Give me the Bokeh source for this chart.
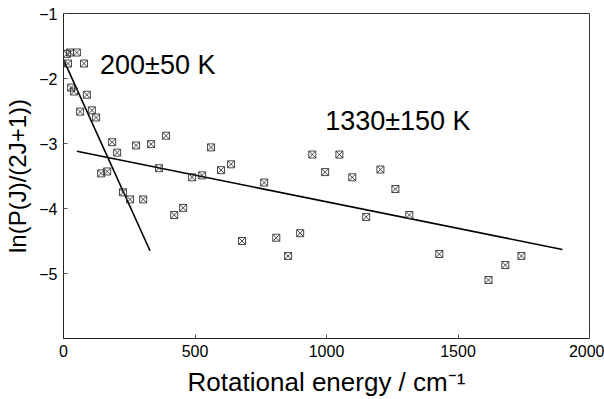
from bokeh.plotting import figure
from bokeh.models import Label, FixedTicker, Range1d
from bokeh.embed import file_html
from bokeh.resources import INLINE

# Data
energy = [13, 25, 51, 17, 78, 29, 40, 89, 63, 108, 124, 185, 204, 276, 333, 390,
          143, 166, 363, 489, 226, 253, 303, 421, 455, 527, 561, 599, 637, 763,
          679, 809, 900, 854, 946, 1049, 995, 1098, 1205, 1262, 1151, 1315, 1429,
          1741, 1680, 1616]
lnP = [-1.62, -1.60, -1.60, -1.77, -1.77, -2.14, -2.20, -2.25, -2.51, -2.49, -2.60,
       -2.98, -3.14, -3.03, -3.01, -2.88, -3.46, -3.43, -3.38, -3.52, -3.75, -3.86,
       -3.86, -4.10, -3.99, -3.49, -3.06, -3.41, -3.32, -3.60, -4.50, -4.45, -4.38,
       -4.73, -3.17, -3.17, -3.44, -3.52, -3.40, -3.70, -4.13, -4.10, -4.70, -4.73,
       -4.87, -5.10]

fit1_x = [0, 329]
fit1_y = [-1.71, -4.65]
fit2_x = [51, 1897]
fit2_y = [-3.12, -4.63]

x_ticks = [0, 500, 1000, 1500, 2000]
y_ticks = [-5, -4, -3, -2, -1]

FONT = "Liberation Sans"

p = figure(width=604, height=399, output_backend="svg", toolbar_location=None,
           x_range=Range1d(0, 2000), y_range=Range1d(-6, -1),
           min_border_left=63, min_border_right=15, min_border_top=13,
           min_border_bottom=59)

p.xgrid.visible = False
p.ygrid.visible = False
p.outline_line_color = "#333333"
p.outline_line_width = 1

for ax in (p.xaxis[0], p.yaxis[0]):
    ax.axis_line_color = "#222222"
    ax.major_tick_in = 4
    ax.major_tick_out = 0
    ax.minor_tick_line_color = None
    ax.major_tick_line_color = "#555555"
    ax.major_label_text_font = FONT
    ax.major_label_text_font_size = "16px"
    ax.major_label_text_color = "black"
    ax.axis_label_text_font = FONT
    ax.axis_label_text_font_style = "normal"
    ax.axis_label_text_color = "black"

p.xaxis.axis_label_text_font_size = "26px"
p.yaxis.axis_label_text_font_size = "24px"
p.xaxis.ticker = FixedTicker(ticks=x_ticks)
p.yaxis.ticker = FixedTicker(ticks=y_ticks)
p.xaxis.axis_label = "Rotational energy / cm⁻¹"
p.yaxis.axis_label = "ln(P(J)/(2J+1))"
p.xaxis.major_label_standoff = 6
p.xaxis.axis_label_standoff = 7
p.yaxis.major_label_standoff = 6
p.yaxis.axis_label_standoff = 5

p.line(fit1_x, fit1_y, line_color="black", line_width=1.6)
p.line(fit2_x, fit2_y, line_color="black", line_width=1.6)

p.scatter(energy, lnP, marker="square_x", size=7, line_color="#333333",
          fill_color=None, line_width=0.9)

p.add_layout(Label(x=139, y=-1.79, text="200±50 K", text_font=FONT,
                   text_font_size="27px", text_baseline="middle", text_color="black"))
p.add_layout(Label(x=995, y=-2.66, text="1330±150 K", text_font=FONT,
                   text_font_size="27px", text_baseline="middle", text_color="black"))

open("out.html", "w").write(file_html(p, INLINE))
